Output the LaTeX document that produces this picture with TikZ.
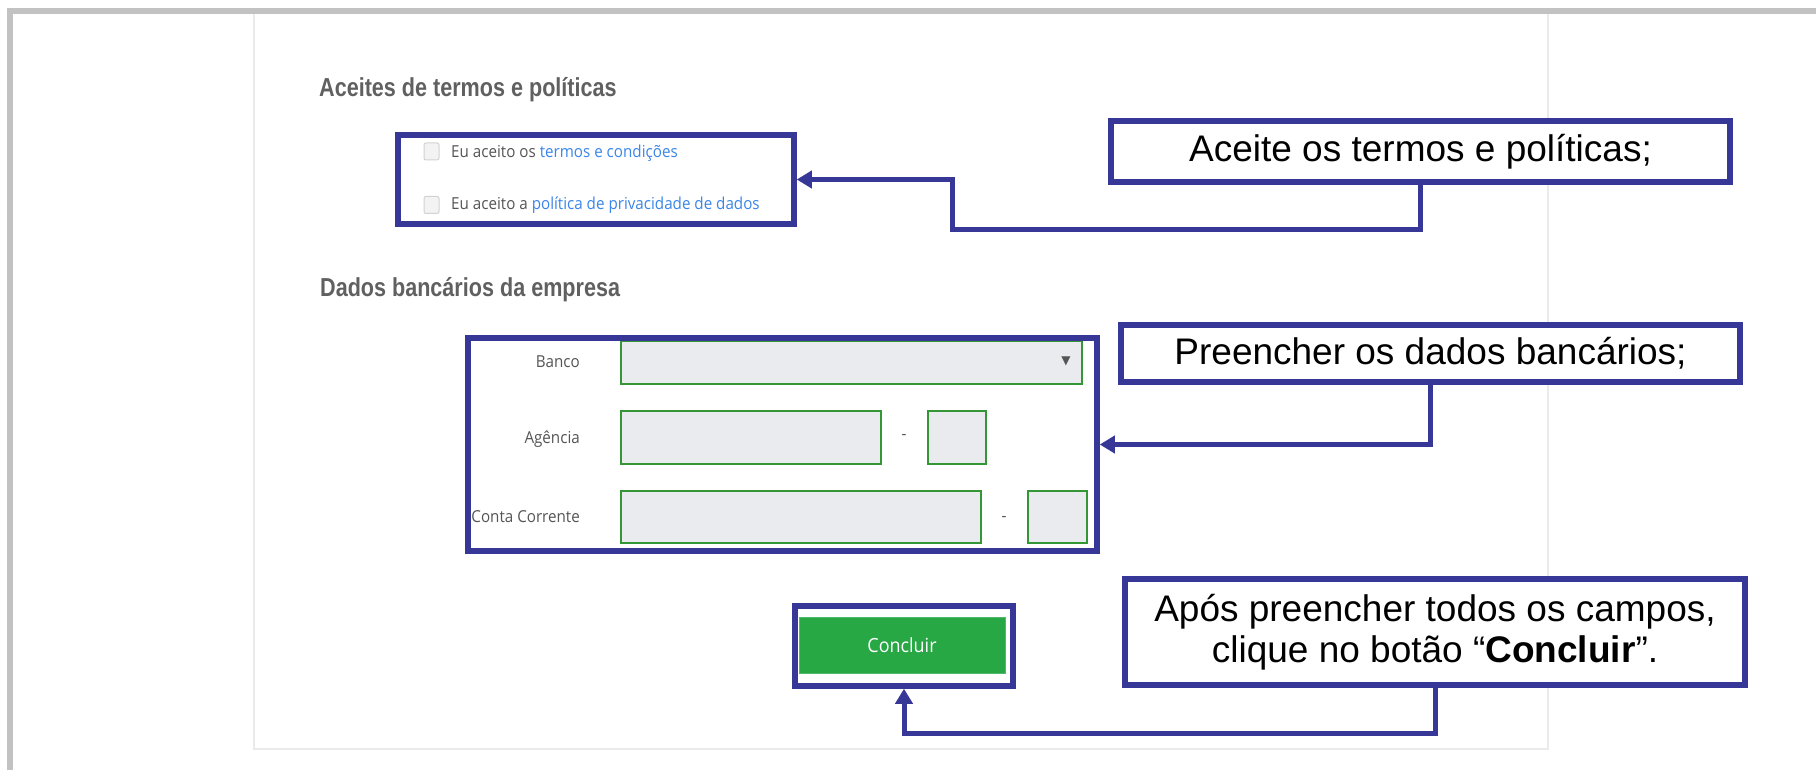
\documentclass[tikz,border=0pt]{standalone}
\usepackage{fontspec}
\setmainfont{Liberation Sans}
\newfontfamily\formfont[FakeStretch=0.92]{Open Sans}
\newfontfamily\headfont[FakeStretch=0.83]{Liberation Sans}
\newfontfamily\symfont{DejaVu Sans}
\usetikzlibrary{arrows.meta}
\definecolor{hlblue}{RGB}{55,55,152}
\definecolor{framegray}{RGB}{194,194,194}
\definecolor{panelgray}{RGB}{234,234,234}
\definecolor{fieldgreen}{RGB}{52,150,52}
\definecolor{fieldfill}{RGB}{233,235,238}
\definecolor{formgray}{RGB}{85,85,85}
\definecolor{headgray}{RGB}{96,96,96}
\definecolor{linkblue}{RGB}{58,134,232}
\definecolor{btngreen}{RGB}{40,167,69}
\definecolor{chkborder}{RGB}{210,210,210}
\definecolor{chkfill}{RGB}{243,243,243}
\begin{document}
\begin{tikzpicture}[x=1pt,y=-1pt,
  hlbox/.style={draw=hlblue, line width=5.5pt, inner sep=0pt},
  callout/.style={draw=hlblue, line width=6pt, fill=white, inner sep=0pt, align=center,
    font=\fontsize{37}{41}\selectfont},
  conn/.style={draw=hlblue, line width=5pt, -{Triangle[length=15pt,width=17pt]}},
  field/.style={draw=fieldgreen, fill=fieldfill, line width=2pt, inner sep=0pt},
  formtxt/.style={font=\formfont\fontsize{16.5}{20}\selectfont, text=formgray, inner sep=0pt},
  heading/.style={font=\headfont\bfseries\fontsize{26}{30}\selectfont, text=headgray, inner sep=0pt},
  chk/.style={draw=chkborder, fill=chkfill, line width=1pt, rounded corners=2pt,
    minimum width=15pt, minimum height=17pt, inner sep=0pt}
]
\useasboundingbox (0,0) rectangle (1816,770);
\fill[white] (0,0) rectangle (1816,770);
% outer frame and panel
\draw[framegray, line width=6pt] (9.7,770) -- (9.7,11) -- (1816,11);
\draw[panelgray, line width=2pt] (254,14) -- (254,749) -- (1548,749) -- (1548,14);

% headings
\node[heading, anchor=base west] (h1) at (319,97) {Aceites de termos e políticas};
\node[heading, anchor=base west] (h2) at (320,297) {Dados bancários da empresa};

% checkboxes
\node[chk] (cb1) at (431.5,151.5) {};
\node[chk] (cb2) at (431.5,205) {};
\node[formtxt, anchor=base west] (t1) at (451,158) {Eu aceito os \textcolor{linkblue}{termos e condições}};
\node[formtxt, anchor=base west] (t2) at (451,210) {Eu aceito a \textcolor{linkblue}{política de privacidade de dados}};

% bank fields
\node[formtxt, anchor=base east] (lb) at (580,367) {Banco};
\node[formtxt, anchor=base east] (la) at (580,443) {Agência};
\node[formtxt, anchor=base east] (lc) at (580,522) {Conta Corrente};
\node[field, minimum width=461pt, minimum height=43pt] (fb) at (851.5,362.5) {};
\node[font=\symfont\fontsize{12}{12}\selectfont, text=formgray, inner sep=0pt] (dd) at (1066,361) {▼};
\node[field, minimum width=260pt, minimum height=53pt] (fa) at (751,437.5) {};
\node[formtxt, anchor=base] (da) at (904,439) {-};
\node[field, minimum width=58pt, minimum height=53pt] (fa2) at (957,437.5) {};
\node[field, minimum width=360pt, minimum height=52pt] (fc) at (801,517) {};
\node[formtxt, anchor=base] (dc) at (1004,521) {-};
\node[field, minimum width=59pt, minimum height=52pt] (fc2) at (1057.5,517) {};

% button
\node[fill=btngreen, draw=btngreen!80!white, line width=1pt, minimum width=206pt, minimum height=56pt,
  inner sep=0pt, text=white, font=\formfont\fontsize{19.5}{22}\selectfont] (btn) at (902,645) {Concluir};

% highlight boxes
\node[hlbox, minimum width=396pt, minimum height=89pt] (b1) at (596,179.5) {};
\node[hlbox, minimum width=629pt, minimum height=213pt] (b2) at (782.5,444.5) {};
\node[hlbox, minimum width=218pt, minimum height=80pt] (b3) at (904,646) {};

% callouts
\node[callout, minimum width=619pt, minimum height=61pt] (c1) at (1420.5,151.5) {Aceite os termos e políticas;};
\node[callout, minimum width=619pt, minimum height=57pt] (c2) at (1430.5,353.5) {Preencher os dados bancários;};
\node[callout, minimum width=620pt, minimum height=106pt] (c3) at (1435,632) {Após preencher todos os campos,\\clique no botão “\textbf{Concluir}”.};

% connectors
\coordinate (k1) at (952,230);
\coordinate (k3) at (904,733);
\draw[conn] (c1.south) |- (k1) |- (b1.east);
\draw[conn] (c2.south) |- (b2.east);
\draw[conn] (c3.south) |- (b3.south |- k3) -- (b3.south);
\end{tikzpicture}
\end{document}
